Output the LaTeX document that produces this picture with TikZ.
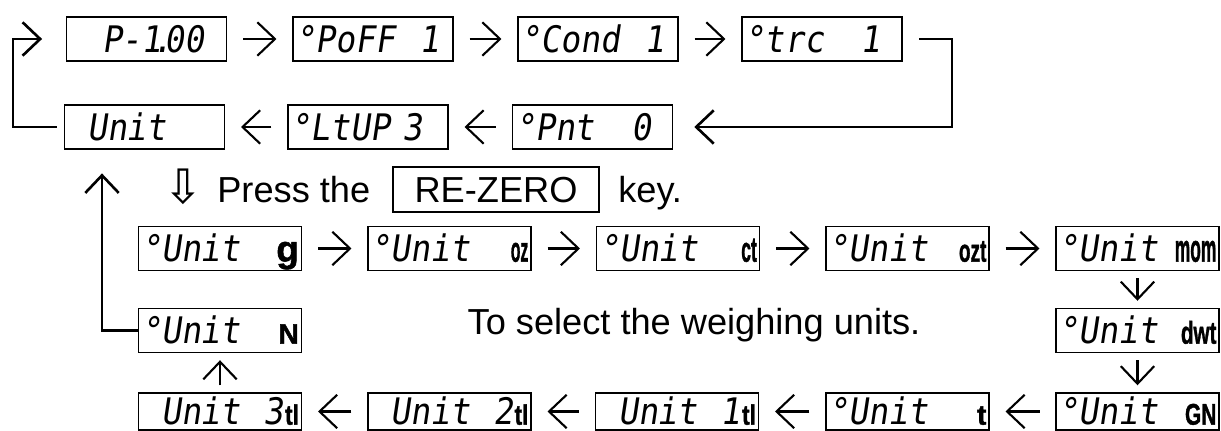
\documentclass[tikz,border=0pt]{standalone}
\usepackage{fontspec}
\usepackage{graphicx}
\setmainfont{Liberation Sans}
\newfontfamily\lcdfamily{DejaVu Sans Mono}[FakeSlant=0.15, FakeStretch=0.9]
\newfontfamily\unitfamily{Liberation Sans}[BoldFeatures={FakeBold=1.5}]
\newfontfamily\markfamily{DejaVu Sans}
\usetikzlibrary{arrows.meta,positioning}

\newcommand{\lcdfont}{\lcdfamily\fontsize{20.8}{20.8}\selectfont}
\newcommand{\dg}{\makebox[0.55em]{°}}
\newcommand{\nodg}{\hspace*{0.55em}}
\newcommand{\push}{\hskip 0pt plus 1filll}
\newcommand{\unitsym}[3]{{\unitfamily\bfseries\fontsize{#1}{#1}\selectfont\scalebox{#2}[1]{#3}}\hspace*{2pt}}

\tikzset{
        % Display boxes
        lcd_box/.style={draw, line width=0.8pt, inner xsep=1.5pt, inner ysep=0pt,
            minimum height=0.88cm, text width=#1, text height=15pt, text depth=0pt, font=\lcdfont},
        lcd_box/.default=3.1cm,
        % Setting boxes (first two rows)
        lcd_top/.style={lcd_box=3.095cm},
        % Unit boxes
        lcd_unit/.style={lcd_box=3.155cm},
        % Unit boxes on the bottom edge
        lcd_low/.style={lcd_unit, minimum height=0.74cm},
        % Key box
        key_box/.style={draw, line width=0.9pt, inner sep=0pt, minimum width=4.12cm, minimum height=0.9cm,
            text height=14.7pt, text depth=0pt, font=\fontsize{20.6}{24}\selectfont},
        % Plain text
        note_text/.style={inner sep=0pt, font=\fontsize{20.6}{24}\selectfont},
        % Arrows between boxes
        step_arrow/.style={-{Straight Barb[length=10pt,width=19pt]}, line width=1.2pt, shorten <=9pt, shorten >=9pt},
        vstep_arrow/.style={step_arrow, shorten <=4pt, shorten >=4pt},
        % Return lines
        loop_line/.style={-{Straight Barb[length=10pt,width=19pt]}, line width=1.5pt}
}

\begin{document}
\begin{tikzpicture}[x=0.02cm, y=-0.02cm]
    \useasboundingbox (0,0) rectangle (1221,431);

    % first row
    \node[lcd_top] (p100) at (146.5,39) {\hspace*{0.9em}P-1\kern-0.25em.\kern-0.2em00};
    \node[lcd_top] (poff) at (373,39) {\dg PoFF~~1};
    \node[lcd_top] (cond) at (598,39) {\dg Cond~~1};
    \node[lcd_top] (trc) at (822,39) {\dg trc~~~1};
    % second row
    \node[lcd_top] (unit) at (144.5,127) {\nodg Unit};
    \node[lcd_top] (ltup) at (368,127) {\dg LtUP~3};
    \node[lcd_top] (pnt) at (592.5,127) {\dg Pnt~~~0};

    \node[note_text, anchor=base east, font=\fontsize{27}{30}\selectfont] (pressmark) at (204,204) {\markfamily ⇩};
    \node[note_text, anchor=base west] (press) at (217,203) {Press the};
    \node[key_box] (rezero) at (496,189.5) {RE-ZERO};
    \node[note_text, anchor=base west] (keytxt) at (618,203) {key.};

    % unit boxes
    \node[lcd_unit] (ug) at (220,248.5) {\dg Unit\push\unitsym{21}{1}{g}};
    \node[lcd_unit] (uoz) at (449.5,248.5) {\dg Unit\push\unitsym{20}{0.45}{oz}};
    \node[lcd_unit] (uct) at (678,248.5) {\dg Unit\push\unitsym{20}{0.5}{ct}};
    \node[lcd_unit] (uozt) at (907.5,248.5) {\dg Unit\push\unitsym{18}{0.6}{ozt}};
    \node[lcd_unit] (umom) at (1137.5,248.5) {\dg Unit\push\unitsym{22}{0.45}{mom}};
    \node[lcd_unit] (un) at (220,330.5) {\dg Unit\push\unitsym{16}{1}{N}};
    \node[note_text, anchor=base] (selecttxt) at (694,335) {To select the weighing units.};
    \node[lcd_unit] (udwt) at (1137.5,330.5) {\dg Unit\push\unitsym{18}{0.65}{dwt}};
    \node[lcd_low] (u3tl) at (220,411.5) {\nodg Unit\push 3\hspace*{1pt}\unitsym{16}{0.8}{tl}};
    \node[lcd_low] (u2tl) at (449.5,411.5) {\nodg Unit\push 2\hspace*{1pt}\unitsym{16}{0.8}{tl}};
    \node[lcd_low] (u1tl) at (677,411.5) {\nodg Unit\push 1\hspace*{1pt}\unitsym{16}{0.8}{tl}};
    \node[lcd_low] (ut) at (907.5,411.5) {\dg Unit\push\unitsym{16}{1}{t}};
    \node[lcd_low] (ugn) at (1137.5,411.5) {\dg Unit\push\unitsym{17}{0.7}{GN}};

    \coordinate (lturn) at (13,127);
    \coordinate (rturn) at (952,127);
    \coordinate (upturn) at (102,330.5);

    \draw[step_arrow] (p100) -- (poff);
    \draw[step_arrow] (poff) -- (cond);
    \draw[step_arrow] (cond) -- (trc);
    \draw[step_arrow] (pnt) -- (ltup);
    \draw[step_arrow] (ltup) -- (unit);
    \draw[step_arrow] (ug) -- (uoz);
    \draw[step_arrow] (uoz) -- (uct);
    \draw[step_arrow] (uct) -- (uozt);
    \draw[step_arrow] (uozt) -- (umom);
    \draw[vstep_arrow] (umom) -- (udwt);
    \draw[vstep_arrow] (udwt) -- (ugn);
    \draw[step_arrow] (ugn) -- (ut);
    \draw[step_arrow] (ut) -- (u1tl);
    \draw[step_arrow] (u1tl) -- (u2tl);
    \draw[step_arrow] (u2tl) -- (u3tl);
    \draw[vstep_arrow] (u3tl) -- (un);

    \draw[loop_line, shorten <=4pt, shorten >=13.5pt] (unit.west) -- (lturn) |- (p100.west);
    \draw[loop_line, shorten <=9.5pt, shorten >=12pt] (trc.east) -| (rturn) -- (pnt.east);
    \draw[loop_line, shorten >=13.5pt] (un.west) -- (upturn) -- (upturn |- unit.south);
\end{tikzpicture}
\end{document}
